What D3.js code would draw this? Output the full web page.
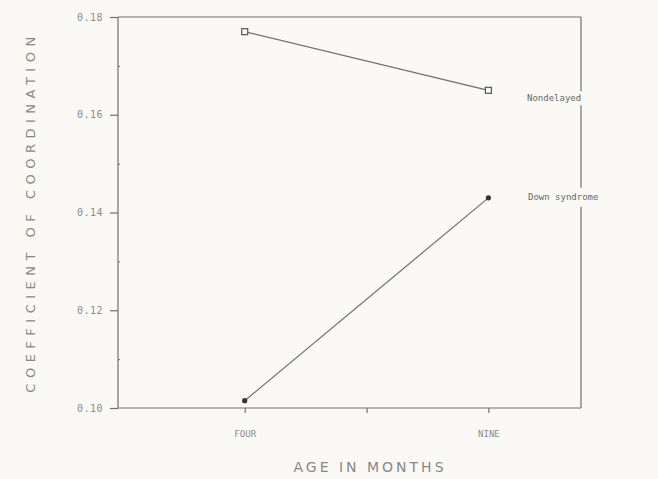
<!DOCTYPE html>
<html><head><meta charset="utf-8">
<script src="https://cdn.jsdelivr.net/npm/d3@7"></script>
<style>body{margin:0;background:#fbf9f5;}svg{display:block;}</style>
</head><body>
<svg id="c" width="658" height="479"></svg>
<script>
const ages = [4, 9];
const ageLabels = ["FOUR", "NINE"];
const xTickValues = [4, 6.5, 9];
const nondelayed = [0.177, 0.165];
const downSyndrome = [0.1015, 0.143];
const seriesNames = ["Nondelayed", "Down syndrome"];
const yTicks = [0.10, 0.12, 0.14, 0.16, 0.18];
const yMinorTicks = [0.11, 0.13, 0.15, 0.17];

const svg = d3.select("#c");
const col = "#6f6f6f";
const L = 118, R = 581, T = 17, B = 408;
const x = d3.scaleLinear().domain([1.4, 10.9]).range([L, R]);
const y = d3.scaleLinear().domain([0.10, 0.18]).range([B, T]);

svg.append("rect").attr("width",658).attr("height",479).attr("fill","#fbf9f5");

const lab1Y = y(nondelayed[1]) + 11;
const lab2Y = y(downSyndrome[1]) + 2;

// frame
const g = svg.append("g").attr("stroke", col).attr("fill","none").attr("stroke-width",1.2);
g.append("line").attr("x1",L).attr("x2",R).attr("y1",T).attr("y2",T);
g.append("line").attr("x1",L).attr("x2",R).attr("y1",B).attr("y2",B);
g.append("line").attr("x1",L).attr("x2",L).attr("y1",T).attr("y2",B);
// right border with gaps around the series labels
g.append("line").attr("x1",R).attr("x2",R).attr("y1",T).attr("y2",lab1Y-10);
g.append("line").attr("x1",R).attr("x2",R).attr("y1",lab1Y+4).attr("y2",lab2Y-12);
g.append("line").attr("x1",R).attr("x2",R).attr("y1",lab2Y+7).attr("y2",B);

// y axis
const yAxis = d3.axisLeft(y).tickValues(yTicks).tickSize(8).tickPadding(7)
  .tickFormat(d => d3.format(".2f")(d));
const ya = svg.append("g").attr("transform", `translate(${L},0)`).call(yAxis);
ya.select(".domain").remove();
ya.selectAll("line").attr("stroke", col).attr("stroke-width",1.2);
ya.selectAll("text").attr("fill", "#8a8a8a").style("font-family","'DejaVu Sans Mono', monospace")
  .style("font-size","10px").style("letter-spacing","0.5px");
const ym = svg.append("g").attr("transform", `translate(${L},0)`).call(d3.axisRight(y).tickValues(yMinorTicks).tickSize(2).tickFormat(""));
ym.select(".domain").remove();
ym.selectAll("line").attr("stroke", col);

// x axis
const xAxis = d3.axisBottom(x).tickValues(xTickValues).tickSize(5).tickPadding(18)
  .tickFormat(d => { const i = ages.indexOf(d); return i >= 0 ? ageLabels[i] : ""; });
const xa = svg.append("g").attr("transform", `translate(0,${B})`).call(xAxis);
xa.select(".domain").remove();
xa.selectAll("line").attr("stroke", col).attr("stroke-width",1.2);
xa.selectAll("text").attr("fill", "#8a8a8a").style("font-family","'DejaVu Sans Mono', monospace")
  .style("font-size","9px");

// lines
const line = d3.line().x((d,i)=>x(ages[i])).y(d=>y(d));
svg.append("path").datum(nondelayed).attr("d", line).attr("stroke", col).attr("stroke-width",1.2).attr("fill","none");
svg.append("path").datum(downSyndrome).attr("d", line).attr("stroke", col).attr("stroke-width",1.2).attr("fill","none");

svg.selectAll(".sq").data(nondelayed).enter().append("rect")
  .attr("x",(d,i)=>x(ages[i])-3).attr("y",d=>y(d)-3).attr("width",6).attr("height",6)
  .attr("fill","#fbf9f5").attr("stroke","#555").attr("stroke-width",1.2);
svg.selectAll(".dot").data(downSyndrome).enter().append("circle")
  .attr("cx",(d,i)=>x(ages[i])).attr("cy",d=>y(d)).attr("r",2.6).attr("fill","#333");

// series labels
const lab = svg.append("g").attr("fill","#666").style("font-family","'DejaVu Sans Mono', monospace").style("font-size","9px");
lab.append("text").attr("x",527).attr("y",lab1Y).text(seriesNames[0]);
lab.append("text").attr("x",528).attr("y",lab2Y).text(seriesNames[1]);

// titles
svg.append("text").attr("x",370).attr("y",472).attr("text-anchor","middle")
  .attr("fill","#888").style("font-family","'DejaVu Sans', sans-serif").style("font-size","14px")
  .style("letter-spacing","3px").text("AGE IN MONTHS");
svg.append("text").attr("transform","translate(35,212) rotate(-90)").attr("text-anchor","middle")
  .attr("fill","#888").style("font-family","'DejaVu Sans', sans-serif").style("font-size","13px")
  .style("letter-spacing","5.5px").text("COEFFICIENT OF COORDINATION");
</script>
</body></html>
